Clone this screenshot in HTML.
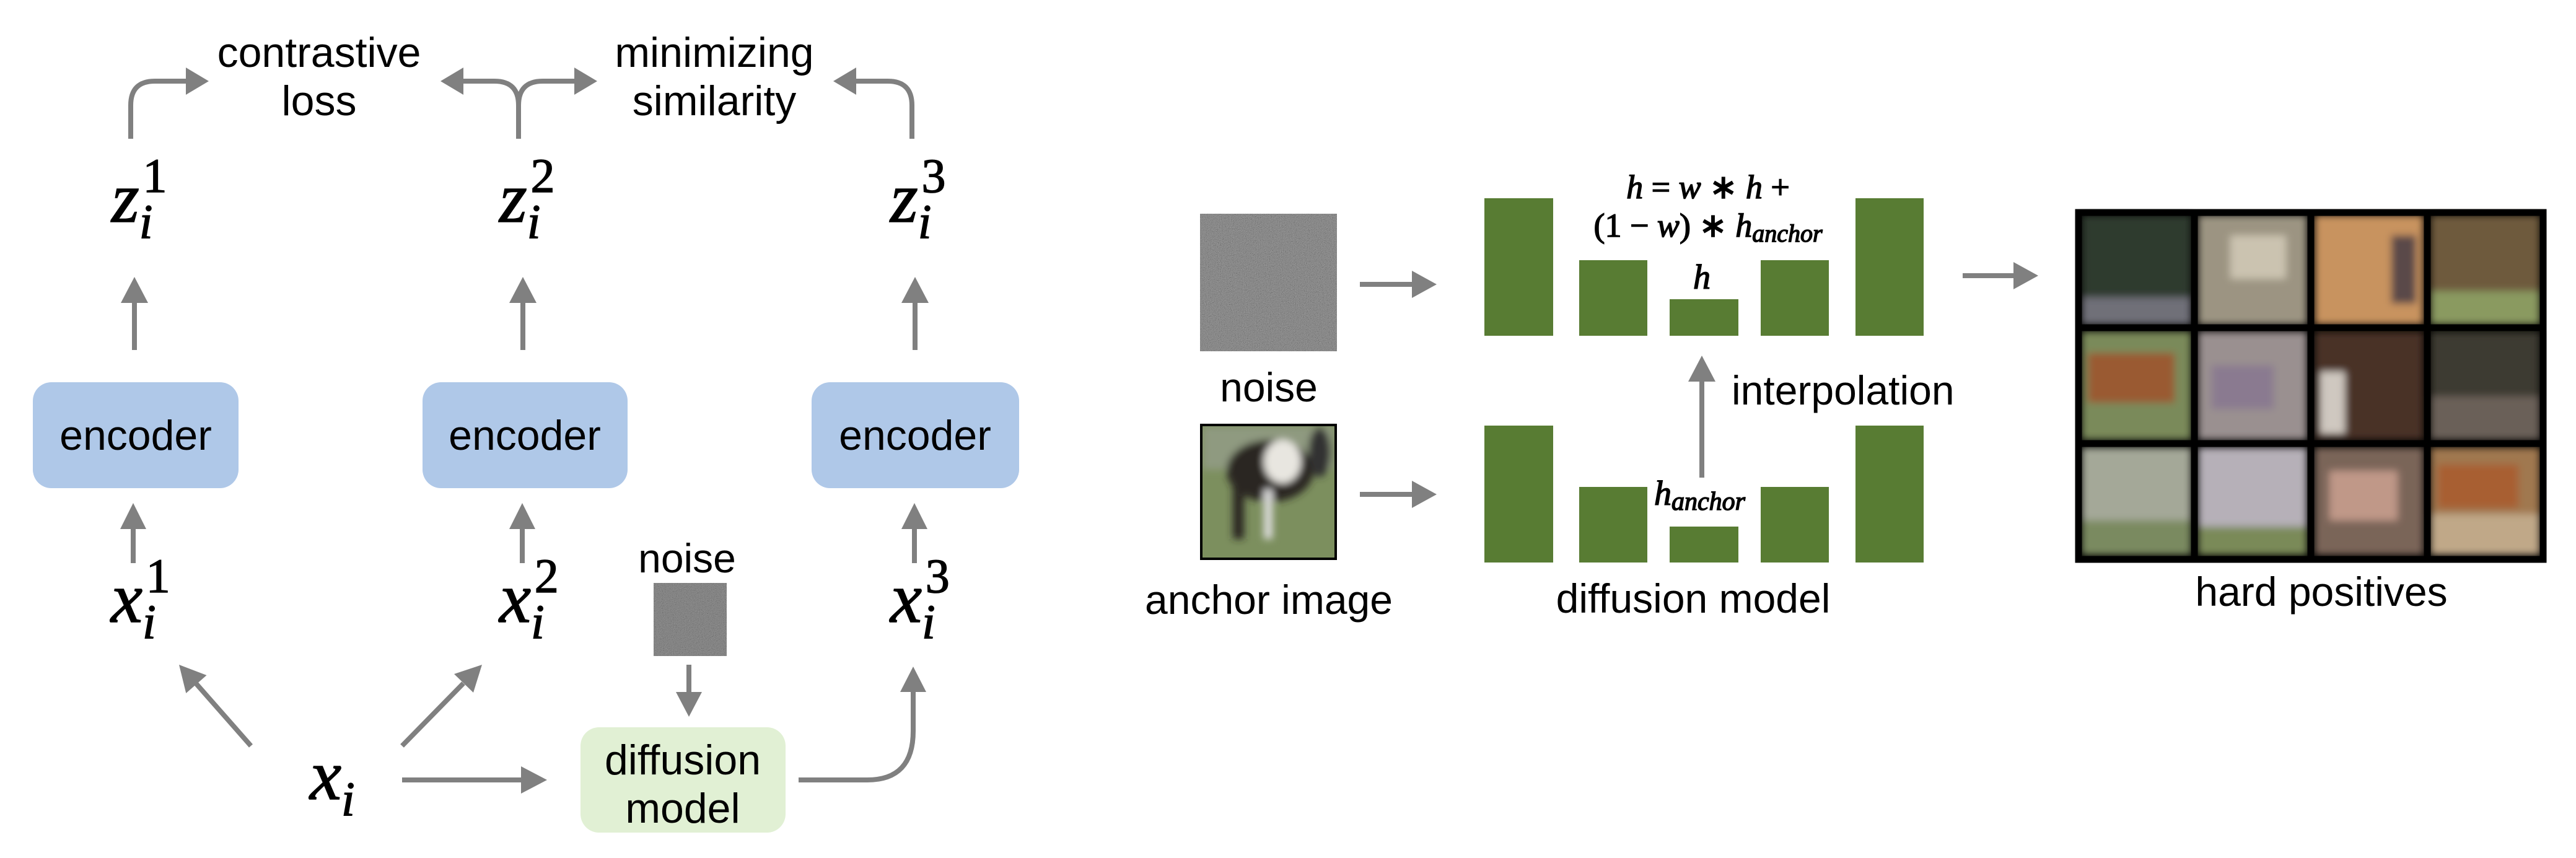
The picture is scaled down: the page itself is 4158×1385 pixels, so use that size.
<!DOCTYPE html>
<html><head><meta charset="utf-8"><style>
html,body{margin:0;padding:0;background:#fff;}
svg{display:block}
.t{font-family:"Liberation Sans",sans-serif;fill:#000}
.m{font-family:"Liberation Serif",serif;font-style:italic;fill:#000;stroke:#000;stroke-width:1.5}
.up{font-family:"Liberation Serif",serif;font-style:normal}
</style></head><body>
<svg width="4158" height="1385" viewBox="0 0 4158 1385" xmlns="http://www.w3.org/2000/svg">
<defs>
<filter id="nz" x="0" y="0" width="100%" height="100%">
<feTurbulence type="fractalNoise" baseFrequency="0.95" numOctaves="2" seed="3"/>
<feColorMatrix type="matrix" values="0.33 0.33 0.33 0 0  0.33 0.33 0.33 0 0  0.33 0.33 0.33 0 0  0 0 0 0 1"/>
<feComponentTransfer><feFuncR type="linear" slope="2.5" intercept="-0.75"/><feFuncG type="linear" slope="2.5" intercept="-0.75"/><feFuncB type="linear" slope="2.5" intercept="-0.75"/></feComponentTransfer>
</filter>
<filter id="bl"><feGaussianBlur stdDeviation="6"/></filter>
<clipPath id="cA"><rect x="1941" y="688" width="213" height="212"/></clipPath>
</defs>
<g fill="none" stroke="#808080" stroke-width="8">
<path d="M211 224 V170 Q211 131 250 131 H300"/>
<path d="M837 224 V170 Q837 131 798 131 H748"/>
<path d="M837 170 Q837 131 876 131 H927"/>
<path d="M1472 224 V170 Q1472 131 1433 131 H1382"/>
<path d="M217 565 V489"/><path d="M844 565 V489"/><path d="M1477 565 V489"/>
<path d="M215 909 V854"/><path d="M843 909 V854"/><path d="M1476 909 V854"/>
<path d="M1112 1073 V1117"/>
<path d="M405 1204 L317 1104"/>
<path d="M649 1204 L748 1103"/>
<path d="M649 1259 H841"/>
<path d="M1289 1259 H1400 Q1474 1259 1474 1180 V1117"/>
<path d="M2195 459 H2279"/>
<path d="M2195 798 H2279"/>
<path d="M2747 771 V614"/>
<path d="M3168 445 H3250"/>
</g>
<g fill="#808080">
<polygon points="337,131 300,109 300,153"/>
<polygon points="711,131 748,109 748,153"/>
<polygon points="964,131 927,109 927,153"/>
<polygon points="1345,131 1382,109 1382,153"/>
<polygon points="217,447 195,489 239,489"/>
<polygon points="844,447 822,489 866,489"/>
<polygon points="1477,447 1455,489 1499,489"/>
<polygon points="215,812 194,854 236,854"/>
<polygon points="843,812 822,854 864,854"/>
<polygon points="1476,812 1455,854 1497,854"/>
<polygon points="1112,1157 1091,1117 1133,1117"/>
<polygon points="289,1073 333.5,1090 300.3,1119"/>
<polygon points="778,1073 764,1118 733,1088"/>
<polygon points="883,1259 841,1237 841,1281"/>
<polygon points="1474,1076 1453,1117 1495,1117"/>
<polygon points="2319,459 2279,437 2279,481"/>
<polygon points="2319,798 2279,776 2279,820"/>
<polygon points="2747,574 2725,616 2769,616"/>
<polygon points="3290,445 3250,423 3250,467"/>
</g>
<!-- left panel -->
<text class="t" x="515" y="108" font-size="68" text-anchor="middle">contrastive</text>
<text class="t" x="515" y="186" font-size="68" text-anchor="middle">loss</text>
<text class="t" x="1153" y="108" font-size="68" text-anchor="middle">minimizing</text>
<text class="t" x="1153" y="186" font-size="68" text-anchor="middle">similarity</text>
<text class="m" x="180" y="358" font-size="115">z<tspan font-size="78" dy="26">i</tspan><tspan class="up" font-size="78" dx="-16" dy="-74">1</tspan></text>
<text class="m" x="806" y="358" font-size="115">z<tspan font-size="78" dy="26">i</tspan><tspan class="up" font-size="78" dx="-16" dy="-74">2</tspan></text>
<text class="m" x="1437" y="358" font-size="115">z<tspan font-size="78" dy="26">i</tspan><tspan class="up" font-size="78" dx="-16" dy="-74">3</tspan></text>
<rect x="53" y="617" width="332" height="171" rx="30" fill="#afc8e8"/>
<rect x="682" y="617" width="331" height="171" rx="30" fill="#afc8e8"/>
<rect x="1310" y="617" width="335" height="171" rx="30" fill="#afc8e8"/>
<text class="t" x="219" y="726" font-size="68" text-anchor="middle">encoder</text>
<text class="t" x="847" y="726" font-size="68" text-anchor="middle">encoder</text>
<text class="t" x="1477" y="726" font-size="68" text-anchor="middle">encoder</text>
<text class="m" x="179" y="1004" font-size="115">x<tspan font-size="78" dy="26">i</tspan><tspan class="up" font-size="78" dx="-16" dy="-74">1</tspan></text>
<text class="m" x="806" y="1004" font-size="115">x<tspan font-size="78" dy="26">i</tspan><tspan class="up" font-size="78" dx="-16" dy="-74">2</tspan></text>
<text class="m" x="1437" y="1004" font-size="115">x<tspan font-size="78" dy="26">i</tspan><tspan class="up" font-size="78" dx="-16" dy="-74">3</tspan></text>
<text class="t" x="1109" y="924" font-size="66" text-anchor="middle">noise</text>
<rect x="1055" y="941" width="118" height="118" fill="#737373"/>
<rect x="1055" y="941" width="118" height="118" filter="url(#nz)" opacity="0.25"/>
<rect x="937" y="1174" width="331" height="170" rx="30" fill="#e1f0d4"/>
<text class="t" x="1102" y="1250" font-size="68" text-anchor="middle">diffusion</text>
<text class="t" x="1102" y="1328" font-size="68" text-anchor="middle">model</text>
<text class="m" x="500" y="1290" font-size="115">x<tspan font-size="78" dy="26">i</tspan></text>
<!-- right panel -->
<rect x="1937" y="345" width="221" height="222" fill="#757575"/>
<rect x="1937" y="345" width="221" height="222" filter="url(#nz)" opacity="0.3"/>
<text class="t" x="2048" y="648" font-size="66" text-anchor="middle">noise</text>
<rect x="1937" y="684" width="221" height="220" fill="#000"/>
<g clip-path="url(#cA)">
<rect x="1941" y="688" width="213" height="212" fill="#7c8f5e"/>
<g filter="url(#bl)">
<rect x="1941" y="688" width="213" height="70" fill="#8f9a80"/>
<ellipse cx="2050" cy="760" rx="70" ry="50" fill="#2a2522"/>
<ellipse cx="2070" cy="745" rx="30" ry="35" fill="#e8e6e0"/>
<rect x="1990" y="780" width="18" height="90" fill="#2a2522"/>
<rect x="2040" y="790" width="14" height="80" fill="#ddd"/>
<ellipse cx="2130" cy="730" rx="18" ry="40" fill="#333"/>
</g>
</g>
<text class="t" x="2048" y="991" font-size="66" text-anchor="middle">anchor image</text>
<g fill="#587c33">
<rect x="2396" y="320" width="111" height="222"/>
<rect x="2549" y="420" width="110" height="122"/>
<rect x="2695" y="483" width="111" height="59"/>
<rect x="2842" y="420" width="110" height="122"/>
<rect x="2995" y="320" width="110" height="222"/>
<rect x="2396" y="687" width="111" height="221"/>
<rect x="2549" y="786" width="110" height="122"/>
<rect x="2695" y="850" width="111" height="58"/>
<rect x="2842" y="786" width="110" height="122"/>
<rect x="2995" y="687" width="110" height="221"/>
</g>
<text class="m" x="2757" y="320" font-size="54" text-anchor="middle" stroke-width="0.8">h <tspan font-style="normal">=</tspan> w <tspan font-style="normal">∗</tspan> h <tspan font-style="normal">+</tspan></text>
<text class="m" x="2757" y="382" font-size="54" text-anchor="middle" stroke-width="0.8"><tspan font-style="normal">(1 − </tspan>w<tspan font-style="normal">) ∗ </tspan>h<tspan font-size="40" dy="8">anchor</tspan></text>
<text class="m" x="2747" y="466" font-size="56" text-anchor="middle" stroke-width="0.8">h</text>
<text class="m" x="2670" y="815" font-size="56" stroke-width="0.8">h<tspan font-size="42" dy="8">anchor</tspan></text>
<text class="t" x="2795" y="653" font-size="66">interpolation</text>
<text class="t" x="2733" y="989" font-size="66" text-anchor="middle">diffusion model</text>
<!-- hard positives grid -->
<rect x="3350" y="338" width="760" height="570" fill="#000"/>
<g filter="url(#bl)">
<rect x="3360" y="347" width="177" height="177" fill="#2d3a2e"/><rect x="3360" y="480" width="177" height="44" fill="#6f6f78"/>
<rect x="3548" y="347" width="176" height="177" fill="#9c9482"/><rect x="3600" y="380" width="90" height="70" fill="#cbc3b0"/>
<rect x="3736" y="347" width="176" height="177" fill="#c8935e"/><rect x="3860" y="380" width="40" height="110" fill="#5a4a48"/>
<rect x="3923" y="347" width="177" height="177" fill="#6e5a3e"/><rect x="3923" y="470" width="177" height="54" fill="#8a9a60"/>
<rect x="3360" y="535" width="177" height="175" fill="#7a8a5a"/><rect x="3370" y="570" width="140" height="80" fill="#9a5a30"/>
<rect x="3548" y="535" width="176" height="175" fill="#9a9090"/><rect x="3570" y="590" width="100" height="70" fill="#8a7a90"/>
<rect x="3736" y="535" width="176" height="175" fill="#4a3028"/><rect x="3745" y="600" width="40" height="100" fill="#cfc8c0"/>
<rect x="3923" y="535" width="177" height="175" fill="#3e3a30"/><rect x="3923" y="640" width="177" height="70" fill="#6a6058"/>
<rect x="3360" y="722" width="177" height="174" fill="#a4a898"/><rect x="3360" y="840" width="177" height="56" fill="#7a8a60"/>
<rect x="3548" y="722" width="176" height="174" fill="#b6b0b8"/><rect x="3548" y="850" width="176" height="46" fill="#7a8a58"/>
<rect x="3736" y="722" width="176" height="174" fill="#7a6558"/><rect x="3760" y="760" width="110" height="80" fill="#c09888"/>
<rect x="3923" y="722" width="177" height="174" fill="#a07850"/><rect x="3935" y="750" width="130" height="70" fill="#a85e30"/><rect x="3923" y="830" width="177" height="66" fill="#c0a888"/>
</g>
<g fill="none" stroke="#000" stroke-width="11">
<rect x="3355" y="343" width="750" height="560"/>
<line x1="3542" y1="338" x2="3542" y2="908"/><line x1="3730" y1="338" x2="3730" y2="908"/><line x1="3918" y1="338" x2="3918" y2="908"/>
<line x1="3350" y1="529" x2="4110" y2="529"/><line x1="3350" y1="716" x2="4110" y2="716"/>
</g>
<text class="t" x="3747" y="978" font-size="66" text-anchor="middle">hard positives</text>
</svg>
</body></html>
